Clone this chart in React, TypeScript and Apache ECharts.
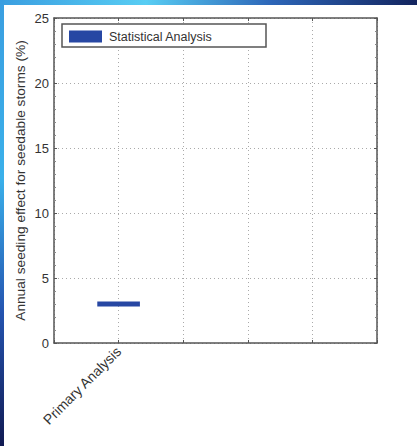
import React, { useEffect, useRef } from "react";
import * as echarts from "echarts";

const categories = ["", "Primary Analysis", "", "", "", ""];
const seriesName = "Statistical Analysis";
const segmentStart = [0.67, 3];
const segmentEnd = [1.33, 3];
const yTicks = [0, 5, 10, 15, 20, 25];

export default function App() {
  const ref = useRef<HTMLDivElement>(null);
  useEffect(() => {
    document.body.style.margin = "0";
    const chart = echarts.init(ref.current!, null, { renderer: "svg" });
    const font = "'Liberation Sans', Arial, sans-serif";
    const axisColor = "#555";
    chart.setOption({
      animation: false,
      backgroundColor: "#ffffff",
      textStyle: { fontFamily: font },
      graphic: [
        {
          type: "rect",
          shape: { x: 0, y: 0, width: 417, height: 5 },
          style: {
            fill: new echarts.graphic.LinearGradient(0, 0, 1, 0, [
              { offset: 0, color: "#3a9ee0" },
              { offset: 0.35, color: "#58cdf3" },
              { offset: 0.65, color: "#2d66b8" },
              { offset: 1, color: "#13245e" },
            ]),
          },
          silent: true,
          z: 100,
        },
        {
          type: "rect",
          shape: { x: 0, y: 0, width: 4, height: 446 },
          style: {
            fill: new echarts.graphic.LinearGradient(0, 0, 0, 1, [
              { offset: 0, color: "#3a9ee0" },
              { offset: 0.4, color: "#3ab0ea" },
              { offset: 0.7, color: "#2454b0" },
              { offset: 1, color: "#111a52" },
            ]),
          },
          silent: true,
          z: 100,
        },
        {
          type: "rect",
          shape: { x: 62, y: 24, width: 204, height: 23 },
          style: { fill: "#fff", stroke: "#555", lineWidth: 1.5 },
          z: 50,
        },
      ],
      legend: {
        data: [{ name: seriesName, icon: "rect" }],
        left: 69,
        top: 30,
        padding: 0,
        itemWidth: 33,
        itemHeight: 12,
        itemGap: 5,
        textStyle: { fontSize: 12.5, color: "#333", fontFamily: font, padding: [0, 0, 0, 2] },
        z: 60,
      },
      grid: { left: 54, right: 40, top: 18, bottom: 103 },
      xAxis: [
        {
          type: "value",
          min: 0,
          max: categories.length - 1,
          interval: 1,
          axisLine: { onZero: false, lineStyle: { color: axisColor, width: 1.5 } },
          axisTick: { inside: true, length: 3, lineStyle: { color: axisColor } },
          axisLabel: {
            formatter: (v: number) => categories[Math.round(v)] || "",
            rotate: 45,
            margin: 6,
            fontSize: 14,
            color: "#333",
            fontFamily: font,
            showMinLabel: true,
            showMaxLabel: true,
          },
          splitLine: { show: true, lineStyle: { type: [1, 3], color: "#aaa" } },
        },
        {
          type: "value",
          position: "top",
          min: 0,
          max: categories.length - 1,
          interval: 1,
          axisLine: { show: true, onZero: false, lineStyle: { color: axisColor, width: 1.5 } },
          axisTick: { show: true, inside: true, length: 3, lineStyle: { color: axisColor } },
          axisLabel: { show: false },
          splitLine: { show: false },
        },
      ],
      yAxis: [
        {
          type: "value",
          min: yTicks[0],
          max: yTicks[yTicks.length - 1],
          interval: 5,
          name: "Annual seeding effect for seedable storms (%)",
          nameLocation: "middle",
          nameGap: 27,
          nameMoveOverlap: false,
          nameTextStyle: { fontSize: 13.7, color: "#333", fontFamily: font },
          axisLine: { show: true, onZero: false, lineStyle: { color: axisColor, width: 1.5 } },
          axisTick: { show: true, inside: true, length: 3, lineStyle: { color: axisColor } },
          minorTick: { show: true, splitNumber: 5, length: 2, lineStyle: { color: "#888" } },
          axisLabel: { fontSize: 13, color: "#333", margin: 5, fontFamily: font },
          splitLine: { show: true, lineStyle: { type: [1, 3], color: "#aaa" } },
        },
        {
          type: "value",
          position: "right",
          min: yTicks[0],
          max: yTicks[yTicks.length - 1],
          interval: 5,
          axisLine: { show: true, onZero: false, lineStyle: { color: axisColor, width: 1.5 } },
          axisTick: { show: true, inside: true, length: 3, lineStyle: { color: axisColor } },
          minorTick: { show: true, splitNumber: 5, length: 2, lineStyle: { color: "#888" } },
          axisLabel: { show: false },
          splitLine: { show: false },
        },
      ],
      series: [
        {
          name: seriesName,
          type: "line",
          data: [segmentStart, segmentEnd],
          showSymbol: false,
          symbol: "none",
          color: "#2747a3",
          lineStyle: { width: 5, color: "#2747a3", cap: "butt" },
          z: 10,
        },
      ],
    });
    return () => chart.dispose();
  }, []);
  return <div ref={ref} style={{ width: 417, height: 446 }} />;
}
